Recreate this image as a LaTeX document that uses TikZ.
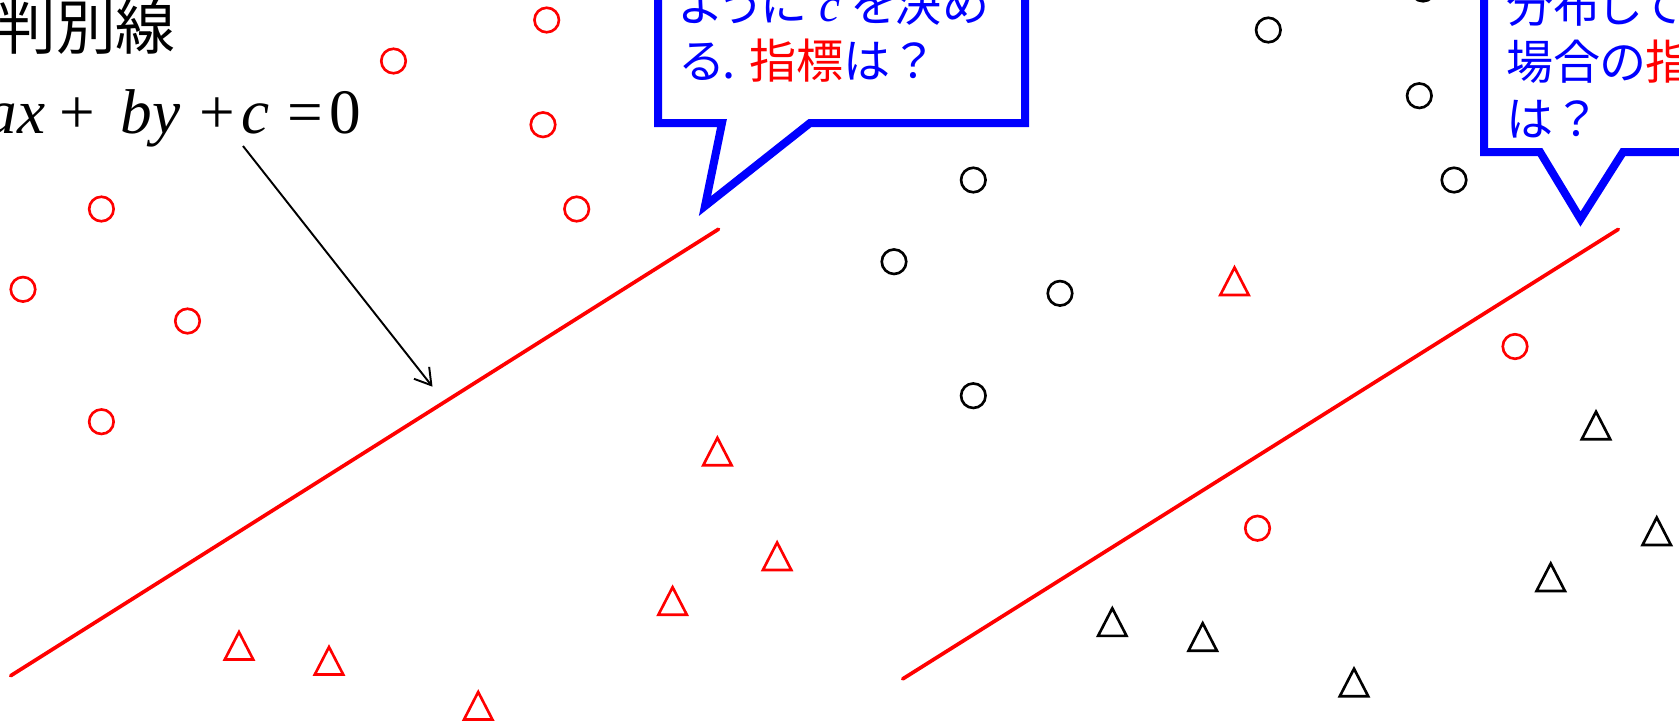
\documentclass[tikz,border=0pt]{standalone}
\usepackage{fontspec}
\setmainfont{Liberation Serif}
\newfontfamily\jp{Noto Sans CJK JP}
\newfontfamily\jpp[RawFeature=+palt]{Noto Sans CJK JP}
\usetikzlibrary{arrows.meta}
\definecolor{pblue}{RGB}{0,0,255}
\definecolor{pred}{RGB}{255,0,0}
\begin{document}
\begin{tikzpicture}[x=0.02cm,y=-0.02cm,
  mark circ/.style={line width=1.5pt},
  sepline/.style={pred, line width=2.1pt, line cap=round},
  callout/.style={pblue, line width=4.55pt, line join=miter, fill=white},
  jptxt/.style={font=\jpp\fontsize{26.8pt}{30pt}\selectfont, text=pblue, anchor=base west, inner sep=0pt},
  pointer/.style={line width=1.1pt, -{Straight Barb[length=9pt,width=11pt,line width=1.1pt]}},
]
\useasboundingbox (0,0) rectangle (1679,725);
\clip (0,0) rectangle (1679,725);

% title and equation
\node[font=\jp\fontsize{34pt}{40pt}\selectfont, anchor=base east, inner sep=0pt] (title) at (176,49) {判別線};
\node[font=\fontsize{36pt}{42pt}\selectfont, anchor=base west, inner sep=0pt] (eq) at (-14.8,133)
  {\textit{ax}\hspace{8.1pt}+\hspace{14.6pt}\textit{by}\hspace{10.8pt}+\hspace{3.5pt}\textit{c}\hspace{10.2pt}=\hspace{3.9pt}0};

% separating lines
\coordinate (l1a) at (10.7,675.7);
\coordinate (l1b) at (718.5,229.2);
\coordinate (l2a) at (902.7,678.9);
\coordinate (l2b) at (1618.3,229.3);
\draw[sepline] (l1a) -- (l1b);
\draw[sepline] (l2a) -- (l2b);

% pointer arrow
\coordinate (arrS) at (243,146);
\coordinate (arrE) at (432.5,386.7);
\draw[pointer] (arrS) -- (arrE);

% red circles (left)
\foreach \x/\y in {546.7/20, 393.5/61, 543/124.7, 101.4/209, 576.7/209, 23/289.3, 187.5/321, 101.4/421.7}
  \draw[pred, mark circ] (\x,\y) circle[radius=0.245cm];

% red triangles (left)
\foreach \x/\y in {717.4/450.8, 777.1/555.5, 672.6/600.2, 239/645, 329/660, 478.2/705}
  \draw[pred, mark circ] (\x,\y) ++(0,-13) -- ++(14.2,27.5) -- ++(-28.4,0) -- cycle;

% black circles (right)
\foreach \x/\y in {1423/-11, 1268.3/30, 1419.3/95.7, 973.3/180, 1454/180, 894/261.7, 1060/293.3, 973.3/395.7}
  \draw[black, mark circ] (\x,\y) circle[radius=0.245cm];

% red marks (right)
\draw[pred, mark circ] (1234.5,280.5) ++(0,-13) -- ++(14.2,27.5) -- ++(-28.4,0) -- cycle;
\foreach \x/\y in {1515/346.5, 1257.5/528.2}
  \draw[pred, mark circ] (\x,\y) circle[radius=0.245cm];

% black triangles (right)
\foreach \x/\y in {1596/424.7, 1656.7/530.5, 1550.7/576.5, 1112.3/621.3, 1202.7/636.2, 1354/681.7}
  \draw[black, mark circ] (\x,\y) ++(0,-13) -- ++(14.2,27.5) -- ++(-28.4,0) -- cycle;

% callout left
\draw[callout] (722,123) -- (705,206) -- (810,123) -- (1025,123) -- (1025,-40) -- (658,-40) -- (658,123) -- cycle;
\node[jptxt] (c1l1) at (680,21) {ように\hspace{8pt}{\rmfamily\itshape c}\hspace{6pt}を決め};
\node[jptxt] (c1l2) at (680,78) {る. {\color{pred}指標}は{\jp ？}};

% callout right
\draw[callout] (1540,152) -- (1580.5,219) -- (1623,152) -- (1760,152) -- (1760,-40) -- (1484,-40) -- (1484,152) -- cycle;
\node[jptxt] (c2l1) at (1506,22) {分布して};
\node[jptxt] (c2l2) at (1506,79) {場合の{\color{pred}指}};
\node[jptxt] (c2l3) at (1506,136) {は{\jp ？}};
\end{tikzpicture}
\end{document}
